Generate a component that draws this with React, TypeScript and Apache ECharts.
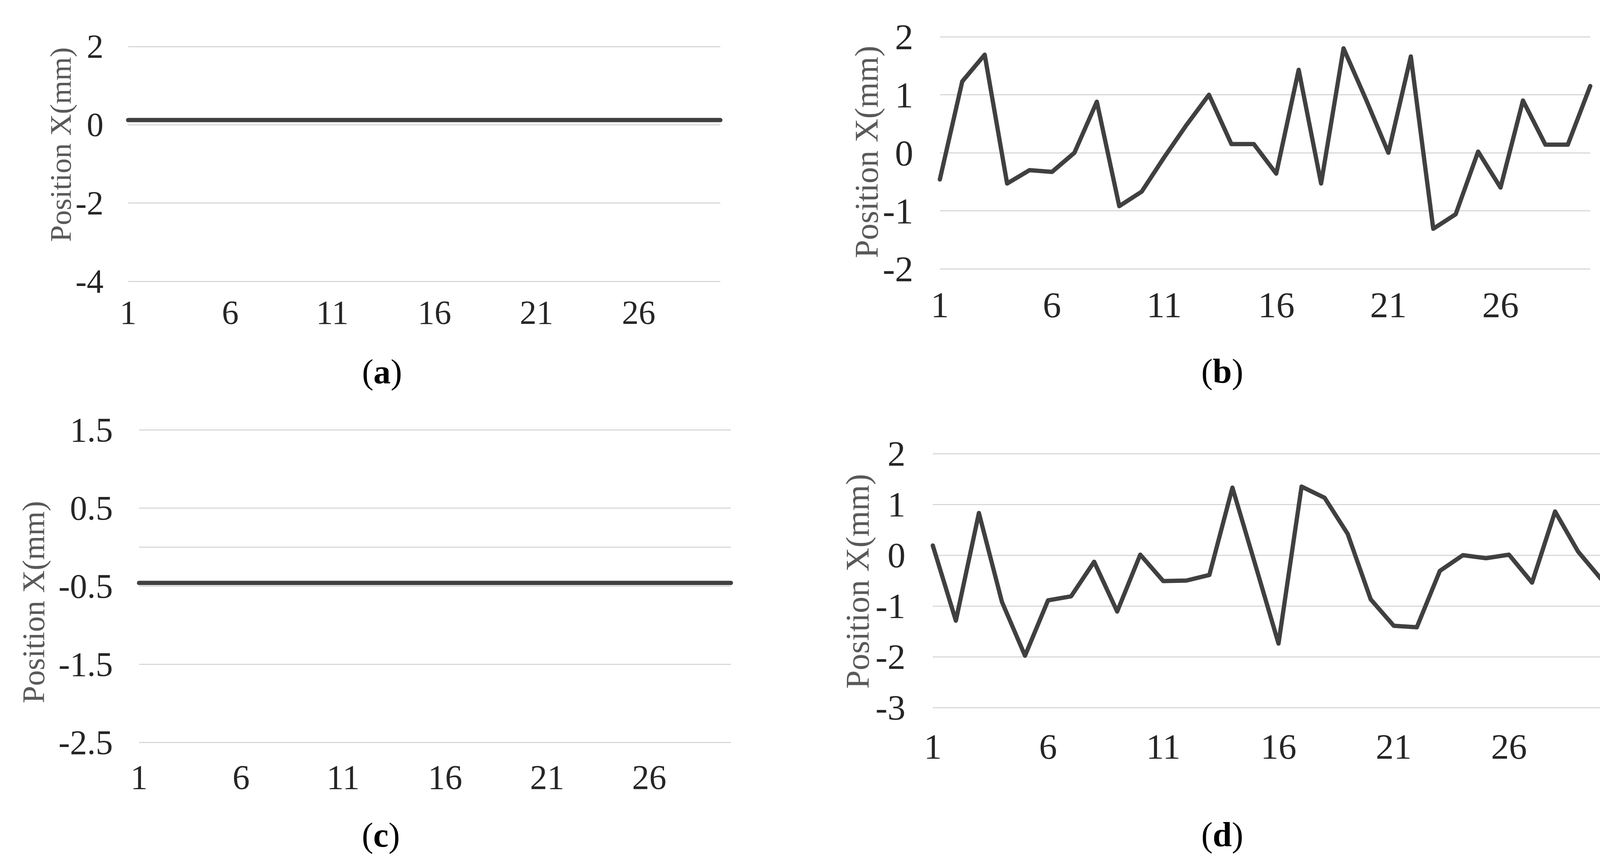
import React, { useEffect, useRef } from "react";
import * as echarts from "echarts";

const categories = [
  "1", "2", "3", "4", "5", "6", "7", "8", "9", "10",
  "11", "12", "13", "14", "15", "16", "17", "18", "19", "20",
  "21", "22", "23", "24", "25", "26", "27", "28", "29", "30",
];

const seriesA = [
  0.12, 0.12, 0.12, 0.12, 0.12, 0.12, 0.12, 0.12, 0.12, 0.12,
  0.12, 0.12, 0.12, 0.12, 0.12, 0.12, 0.12, 0.12, 0.12, 0.12,
  0.12, 0.12, 0.12, 0.12, 0.12, 0.12, 0.12, 0.12, 0.12, 0.12,
];

const seriesB = [
  -0.46, 1.23, 1.69, -0.53, -0.3, -0.33, 0.0, 0.88, -0.92, -0.67,
  -0.08, 0.48, 1.0, 0.15, 0.15, -0.36, 1.43, -0.53, 1.8, 0.92,
  0.0, 1.66, -1.31, -1.06, 0.02, -0.6, 0.9, 0.14, 0.14, 1.15,
];

const seriesC = [
  -0.46, -0.46, -0.46, -0.46, -0.46, -0.46, -0.46, -0.46, -0.46, -0.46,
  -0.46, -0.46, -0.46, -0.46, -0.46, -0.46, -0.46, -0.46, -0.46, -0.46,
  -0.46, -0.46, -0.46, -0.46, -0.46, -0.46, -0.46, -0.46, -0.46, -0.46,
];

const seriesD = [
  0.19, -1.29, 0.83, -0.92, -1.98, -0.89, -0.81, -0.13, -1.11, 0.01,
  -0.51, -0.5, -0.39, 1.33, -0.2, -1.74, 1.35, 1.13, 0.42, -0.87,
  -1.39, -1.42, -0.31, 0.0, -0.06, 0.01, -0.54, 0.86, 0.07, -0.47,
];

const yRanges = [
  { min: -4, max: 2, interval: 2 },
  { min: -2, max: 2, interval: 1 },
  { min: -2.5, max: 1.5, interval: 1 },
  { min: -3, max: 2, interval: 1 },
];

const panelLetters = ["a", "b", "c", "d"];
const yTitle = "Position X(mm)";

const FONT = '"Liberation Serif", "Times New Roman", serif';

export default function App() {
  const ref = useRef<HTMLDivElement>(null);

  useEffect(() => {
    if (!ref.current) return;
    const chart = echarts.init(ref.current, undefined, { renderer: "svg" });

    const grids = [
      { left: 328, top: 119, width: 1516, height: 601 },
      { left: 2406, top: 94, width: 1665, height: 594 },
      { left: 356, top: 1100, width: 1515, height: 800 },
      { left: 2388, top: 1161, width: 1711, height: 650 },
    ];
    const tickFont = [86, 94, 88, 92];
    const yMargin = [63, 68, 67, 70];
    const xMargin = [37, 45, 45, 54];
    const titleFont = [77, 84, 80, 85];
    const titlePos = [
      [155, 370],
      [2218, 389],
      [86, 1541],
      [2195, 1488],
    ];
    const capPos = [
      [978, 951],
      [3129, 950],
      [975, 2137],
      [3129, 2136],
    ];
    const data = [seriesA, seriesB, seriesC, seriesD];

    const fmt = (v: number) => (v < 0 ? "-" + Math.abs(v) : String(v));

    const option: any = {
      animation: false,
      backgroundColor: "#ffffff",
      grid: grids.map((g) => ({ ...g, containLabel: false })),
      xAxis: grids.map((_, i) => ({
        type: "category",
        gridIndex: i,
        data: categories,
        boundaryGap: false,
        axisLine: { show: false },
        axisTick: { show: false },
        splitLine: { show: false },
        axisLabel: {
          interval: 4,
          margin: xMargin[i],
          fontFamily: FONT,
          fontSize: tickFont[i],
          color: "#262626",
        },
      })),
      yAxis: grids.map((_, i) => ({
        type: "value",
        gridIndex: i,
        min: yRanges[i].min,
        max: yRanges[i].max,
        interval: yRanges[i].interval,
        axisLine: { show: false },
        axisTick: { show: false },
        splitLine: { show: true, lineStyle: { color: "#d9d9d9", width: 3 } },
        axisLabel: {
          margin: yMargin[i],
          formatter: fmt,
          fontFamily: FONT,
          fontSize: tickFont[i],
          color: "#262626",
        },
      })),
      series: data.map((d, i) => ({
        type: "line",
        xAxisIndex: i,
        yAxisIndex: i,
        data: d,
        showSymbol: false,
        symbol: "none",
        lineStyle: { color: "#404040", width: 11, join: "round", cap: "round" },
        markLine:
          i === 2
            ? {
                silent: true,
                symbol: ["none", "none"],
                label: { show: false },
                lineStyle: { color: "#d9d9d9", width: 3, type: "solid" },
                data: [{ yAxis: 0 }],
                z: 1,
              }
            : undefined,
      })),
      graphic: [
        ...titlePos.map((p, i) => ({
          type: "text",
          x: p[0],
          y: p[1],
          rotation: Math.PI / 2,
          style: {
            text: yTitle,
            fontFamily: FONT,
            fontSize: titleFont[i],
            fill: "#595959",
            align: "center",
            verticalAlign: "middle",
          },
        })),
        ...capPos.map((p, i) => ({
          type: "text",
          x: p[0],
          y: p[1],
          style: {
            text: "{n|(}{b|" + panelLetters[i] + "}{n|)}",
            align: "center",
            verticalAlign: "middle",
            rich: {
              n: { fontFamily: FONT, fontSize: 88, fill: "#000000", color: "#000000" },
              b: {
                fontFamily: FONT,
                fontSize: 88,
                fontWeight: "bold",
                fill: "#000000",
                color: "#000000",
              },
            },
          },
        })),
      ],
    };

    chart.setOption(option);
    return () => chart.dispose();
  }, []);

  return (
    <div
      ref={ref}
      style={{ position: "fixed", left: 0, top: 0, width: 4163, height: 2191, background: "#fff" }}
    />
  );
}
